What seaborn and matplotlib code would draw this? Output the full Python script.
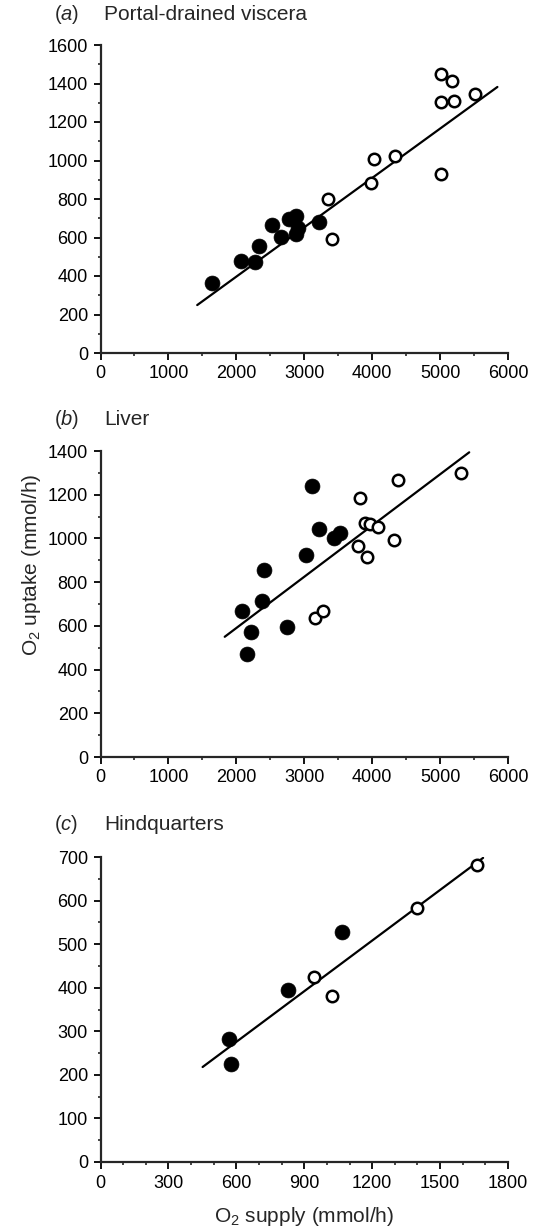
import matplotlib
matplotlib.use('Agg')
import matplotlib.pyplot as plt
from matplotlib.ticker import MultipleLocator
import seaborn as sns

# (a) Portal-drained viscera
pdv_fill_x = [1644, 2073, 2278, 2327, 2527, 2659, 2780, 2878, 2902, 2878, 3210]
pdv_fill_y = [362, 476, 472, 554, 664, 603, 694, 714, 650, 619, 680]
pdv_open_x = [3351, 3405, 3976, 4024, 4341, 5010, 5010, 5171, 5010, 5205, 5512]
pdv_open_y = [802, 594, 885, 1006, 1023, 929, 1447, 1412, 1304, 1311, 1344]
pdv_line_x = [1424, 5844]
pdv_line_y = [249, 1382]

# (b) Liver
liv_fill_x = [3107, 3220, 3439, 3522, 3024, 2400, 2380, 2088, 2210, 2161, 2741]
liv_fill_y = [1240, 1041, 1003, 1026, 924, 855, 715, 669, 570, 473, 594]
liv_open_x = [3820, 4376, 5302, 3888, 3966, 4088, 3795, 3917, 4327, 3151, 3278]
liv_open_y = [1185, 1267, 1298, 1072, 1064, 1053, 965, 913, 995, 637, 667]
liv_line_x = [1829, 5429]
liv_line_y = [550, 1394]

# (c) Hindquarters
hq_fill_x = [568, 575, 828, 1068]
hq_fill_y = [282, 224, 395, 527]
hq_open_x = [945, 1024, 1398, 1662]
hq_open_y = [424, 382, 584, 682]
hq_line_x = [451, 1690]
hq_line_y = [218, 698]

sns.set_style('ticks')
plt.rcParams['font.family'] = ['Liberation Sans', 'DejaVu Sans']
plt.rcParams['mathtext.fontset'] = 'custom'
plt.rcParams['mathtext.rm'] = 'Liberation Sans'
plt.rcParams['mathtext.it'] = 'Liberation Sans:italic'

W, H = 534, 1232
fig = plt.figure(figsize=(W / 100, H / 100), dpi=100)

left, width = 100.5 / W, 407.5 / W
# (top px, bottom px) of each plot area
boxes = [(45, 353), (451, 757), (857, 1162)]


def draw(ax, fx, fy, ox, oy, lx, ly, xmax, ymax, xmaj, xmin, ymaj, ymin):
    sns.lineplot(x=lx, y=ly, ax=ax, color='black', linewidth=1.6)
    sns.scatterplot(x=fx, y=fy, ax=ax, s=115, color='black',
                    edgecolor='black', linewidth=0.5, zorder=3)
    sns.scatterplot(x=ox, y=oy, ax=ax, s=68, facecolor='white',
                    edgecolor='black', linewidth=1.8, zorder=3)
    ax.set_xlim(0, xmax)
    ax.set_ylim(0, ymax)
    ax.xaxis.set_major_locator(MultipleLocator(xmaj))
    ax.xaxis.set_minor_locator(MultipleLocator(xmin))
    ax.yaxis.set_major_locator(MultipleLocator(ymaj))
    ax.yaxis.set_minor_locator(MultipleLocator(ymin))
    for s in ['top', 'right']:
        ax.spines[s].set_visible(False)
    for s in ['left', 'bottom']:
        ax.spines[s].set_linewidth(1.6)
    ax.tick_params(which='major', length=5, width=1.3, labelsize=13, pad=4,
                   direction='out', color='black', labelcolor='black')
    ax.tick_params(which='minor', length=2.5, width=1.2, direction='out')
    ax.set_xlabel('')
    ax.set_ylabel('')


axes = []
for top, bot in boxes:
    ax = fig.add_axes([left, 1 - bot / H, width, (bot - top) / H])
    ax.set_facecolor('white')
    axes.append(ax)

draw(axes[0], pdv_fill_x, pdv_fill_y, pdv_open_x, pdv_open_y, pdv_line_x, pdv_line_y,
     6000, 1600, 1000, 500, 200, 100)
draw(axes[1], liv_fill_x, liv_fill_y, liv_open_x, liv_open_y, liv_line_x, liv_line_y,
     6000, 1400, 1000, 500, 200, 100)
draw(axes[2], hq_fill_x, hq_fill_y, hq_open_x, hq_open_y, hq_line_x, hq_line_y,
     1800, 700, 300, 100, 100, 50)

titles = [('a', 'Portal-drained viscera', 14), ('b', 'Liver', 420), ('c', 'Hindquarters', 825)]
for letter, name, ty in titles:
    fig.text(54 / W, 1 - ty / H, '($\\mathit{' + letter + '}$)', ha='left', va='center', fontsize=14.5)
    fig.text(104 / W, 1 - ty / H, name, ha='left', va='center', fontsize=15)

fig.text(32 / W, 1 - 565 / H, r'O$_\mathregular{2}$ uptake (mmol/h)', rotation=90,
         ha='center', va='center', fontsize=15)
fig.text(304 / W, 1 - 1216 / H, r'O$_\mathregular{2}$ supply (mmol/h)',
         ha='center', va='center', fontsize=15)

fig.savefig('out.png', dpi=100, facecolor='white')
